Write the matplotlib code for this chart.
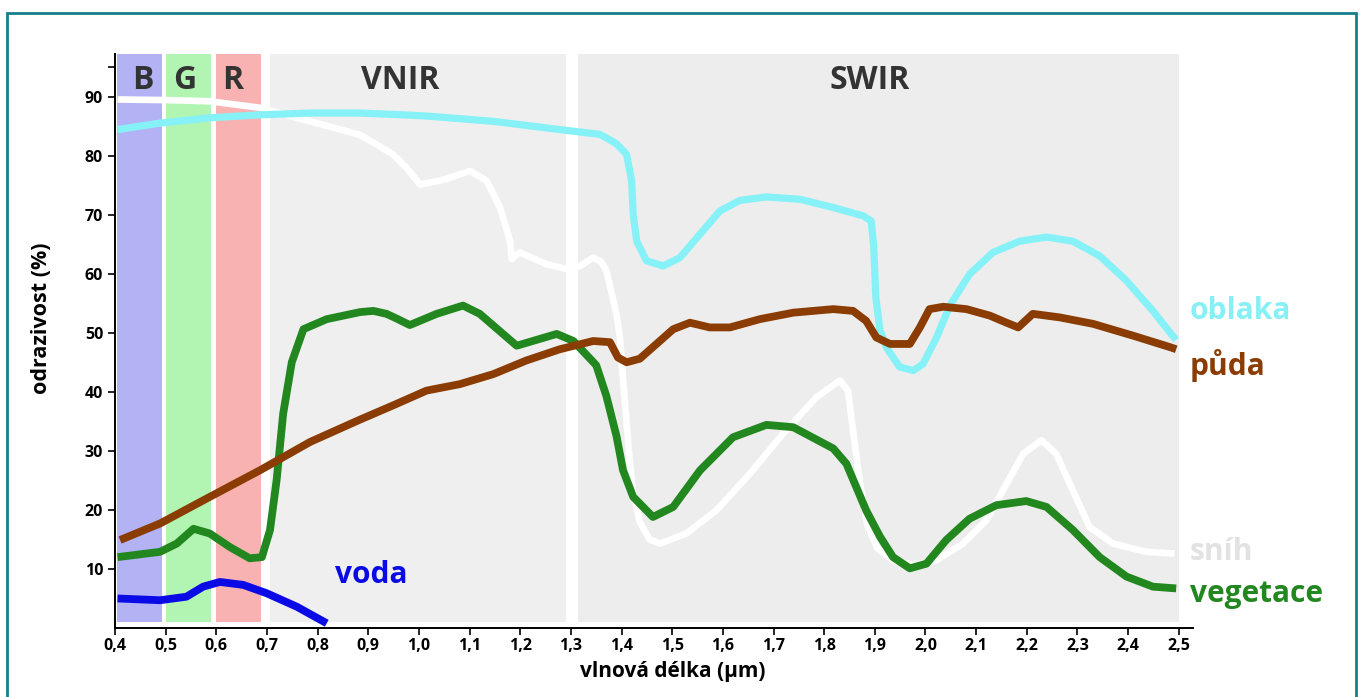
import numpy as np
import matplotlib.pyplot as plt
from matplotlib.patches import Rectangle

plt.rcParams['font.family'] = ['Open Sans', 'DejaVu Sans']

# spektralni krivky odrazivosti (odhad z obrazku)
oblaka_x = [0.405, 0.489, 0.587, 0.686, 0.785, 0.884, 0.969, 1.015, 1.147, 1.278, 1.357, 1.37,
            1.39, 1.41, 1.42, 1.423, 1.43, 1.449, 1.482, 1.515, 1.555, 1.594, 1.633, 1.686,
            1.752, 1.818, 1.877, 1.893, 1.898, 1.902, 1.910, 1.923, 1.949, 1.976, 1.995, 2.022,
            2.048, 2.087, 2.133, 2.186, 2.239, 2.291, 2.344, 2.397, 2.449, 2.485, 2.495]
oblaka_y = [84.4, 85.5, 86.4, 86.9, 87.2, 87.2, 86.9, 86.7, 85.8, 84.4, 83.6, 83.0,
            82.0, 80.2, 75.7, 70.0, 65.5, 62.2, 61.3, 62.7, 66.7, 70.6, 72.4, 73.0,
            72.6, 71.2, 69.8, 68.9, 64.4, 56.0, 50.5, 47.5, 44.2, 43.6, 44.7, 49.2,
            54.6, 59.9, 63.6, 65.5, 66.2, 65.5, 63.0, 58.8, 53.7, 49.8, 48.8]

snih_x = [0.405, 0.50, 0.587, 0.686, 0.785, 0.884, 0.949, 0.975, 1.002, 1.048, 1.101, 1.134,
          1.160, 1.180, 1.183, 1.199, 1.252, 1.291, 1.318, 1.344, 1.360, 1.370, 1.390, 1.397,
          1.405, 1.416, 1.422, 1.436, 1.455, 1.476, 1.528, 1.587, 1.653, 1.719, 1.785, 1.831,
          1.847, 1.857, 1.870, 1.885, 1.905, 1.936, 1.976, 2.022, 2.074, 2.120, 2.160, 2.193,
          2.229, 2.258, 2.291, 2.324, 2.370, 2.436, 2.492]
snih_y = [89.5, 89.4, 89.2, 88.1, 85.8, 83.5, 80.2, 78.0, 75.1, 75.9, 77.4, 75.7,
          71.2, 65.5, 62.5, 63.6, 61.6, 60.8, 61.3, 62.7, 62.0, 60.5, 53.2, 49.0,
          40.0, 28.5, 23.3, 18.0, 15.0, 14.3, 16.0, 19.9, 26.1, 32.9, 39.1, 41.9,
          40.2, 33.4, 25.0, 17.5, 13.5, 11.5, 10.6, 11.5, 14.3, 18.2, 24.4, 29.5,
          31.8, 29.5, 23.3, 17.1, 14.3, 12.9, 12.6]

vegetace_x = [0.405, 0.489, 0.522, 0.555, 0.587, 0.627, 0.666, 0.690, 0.706, 0.719, 0.732, 0.749,
              0.772, 0.818, 0.884, 0.910, 0.936, 0.956, 0.982, 1.035, 1.087, 1.120, 1.193, 1.272,
              1.305, 1.350, 1.370, 1.390, 1.403, 1.423, 1.462, 1.502, 1.555, 1.620, 1.686, 1.739,
              1.818, 1.844, 1.883, 1.910, 1.936, 1.969, 2.002, 2.041, 2.087, 2.140, 2.199, 2.239,
              2.291, 2.344, 2.397, 2.449, 2.495]
vegetace_y = [12.0, 12.9, 14.3, 16.8, 16.0, 13.7, 11.8, 12.0, 16.6, 25.0, 36.3, 45.0,
              50.6, 52.3, 53.5, 53.7, 53.2, 52.4, 51.3, 53.2, 54.6, 53.2, 47.8, 49.8,
              48.6, 44.5, 39.3, 32.5, 26.7, 22.2, 18.8, 20.5, 26.7, 32.3, 34.4, 34.0,
              30.4, 27.8, 19.9, 15.5, 12.0, 10.1, 10.9, 14.9, 18.5, 20.8, 21.5, 20.5,
              16.6, 12.0, 8.7, 7.0, 6.7]

puda_x = [0.41, 0.489, 0.587, 0.686, 0.785, 0.884, 0.949, 1.015, 1.081, 1.147, 1.212, 1.278,
          1.344, 1.377, 1.393, 1.410, 1.436, 1.469, 1.502, 1.535, 1.574, 1.614, 1.673, 1.739,
          1.818, 1.857, 1.883, 1.903, 1.930, 1.969, 1.989, 2.008, 2.035, 2.081, 2.127, 2.160,
          2.183, 2.212, 2.265, 2.331, 2.410, 2.485, 2.495]
puda_y = [14.9, 17.7, 22.2, 26.7, 31.5, 35.3, 37.7, 40.2, 41.3, 43.0, 45.3, 47.2,
          48.6, 48.4, 45.8, 45.0, 45.6, 48.1, 50.6, 51.7, 50.9, 50.9, 52.3, 53.4,
          54.0, 53.7, 52.0, 49.2, 48.1, 48.1, 50.9, 54.0, 54.4, 54.0, 52.9, 51.7,
          50.9, 53.2, 52.6, 51.5, 49.5, 47.5, 47.2]

voda_x = [0.405, 0.489, 0.541, 0.574, 0.607, 0.653, 0.699, 0.759, 0.818]
voda_y = [5.0, 4.7, 5.3, 7.0, 7.8, 7.3, 5.9, 3.6, 0.8]

# pasma v pozadi
pasma = [(0.404, 0.492, '#b2b2f5', 'B'), (0.500, 0.590, '#b2f5b2', 'G'),
         (0.599, 0.688, '#f9b2b2', 'R'), (0.706, 1.290, '#efefef', 'VNIR'),
         (1.315, 2.500, '#ededed', 'SWIR')]
pasma_popis_x = [0.455, 0.538, 0.633, 0.963, 1.89]

xticks = np.round(np.arange(0.4, 2.51, 0.1), 1)
yticks = [10, 20, 30, 40, 50, 60, 70, 80, 90]

fig = plt.figure(figsize=(13.61, 6.97), dpi=100)
ax = fig.add_axes([0.0845, 0.099, 0.792, 0.8235])

ymax = 97.2
for x0, x1, c, _ in pasma:
    ax.axvspan(x0, x1, ymin=1.0 / ymax, ymax=1.0, color=c, lw=0, zorder=0)
for (x0, x1, c, name), tx in zip(pasma, pasma_popis_x):
    ax.text(tx, 92.8, name, ha='center', va='center', fontsize=23,
            fontweight='bold', color='#333333')

lw = 5.6
kw = dict(solid_capstyle='butt', solid_joinstyle='round', zorder=3)
ax.plot(snih_x, snih_y, color='white', lw=4.8, **kw)
ax.plot(oblaka_x, oblaka_y, color='#86f2f7', lw=5.2, **kw)
ax.plot(vegetace_x, vegetace_y, color='#22871f', lw=lw, **kw)
ax.plot(puda_x, puda_y, color='#8a3c03', lw=lw, **kw)
ax.plot(voda_x, voda_y, color='#0a0ae6', lw=lw, **kw)

lab = dict(fontsize=21.5, fontweight='bold', va='center', ha='left', clip_on=False)
ax.text(2.522, 53.7, 'oblaka', color='#86f0f5', **lab)
ax.text(2.522, 44.4, 'půda', color='#8a3c03', **lab)
ax.text(2.522, 12.8, 'sníh', color='#e2e2e2', **lab)
ax.text(2.522, 5.7, 'vegetace', color='#22871f', **lab)
ax.text(0.834, 9.0, 'voda', color='#0a0ae6', **lab)

ax.set_xlim(0.4, 2.528)
ax.set_ylim(0, ymax)
ax.set_xticks(xticks)
ax.set_xticklabels([f'{v:.1f}'.replace('.', ',') for v in xticks])
ax.set_yticks(yticks)
ax.set_yticks([95], minor=True)
ax.tick_params(axis='both', labelsize=11.5, width=1.2, length=5, direction='out')
ax.tick_params(axis='x', pad=2)
ax.tick_params(axis='y', which='minor', width=1.2, length=5)
for t in ax.get_xticklabels() + ax.get_yticklabels():
    t.set_fontweight('bold')

for s in ['top', 'right']:
    ax.spines[s].set_visible(False)
for s in ['left', 'bottom']:
    ax.spines[s].set_linewidth(1.4)

ax.set_xlabel('vlnová délka (µm)', fontsize=15, fontweight='bold')
ax.set_ylabel('odrazivost (%)', fontsize=15.5, fontweight='bold')
ax.xaxis.set_label_coords(0.517, -0.057)
ax.yaxis.set_label_coords(-0.058, 0.54)

# ramecek okolo obrazku
fig.patches.append(Rectangle((0.0055, -0.05), 0.9905, 1.031, transform=fig.transFigure,
                             fill=False, edgecolor='#157f8b', lw=2, clip_on=False))

fig.savefig('out.png', dpi=100, facecolor='white')
